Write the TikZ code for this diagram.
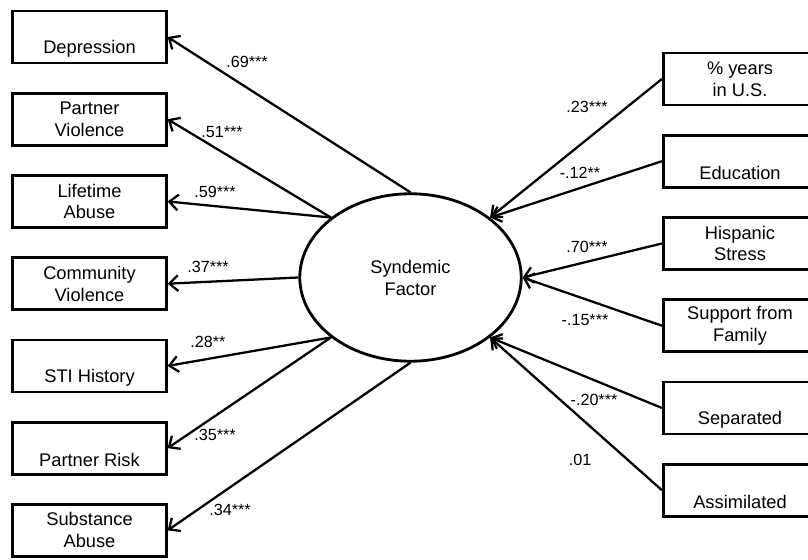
\documentclass[tikz,border=0pt]{standalone}
\usepackage{fontspec}
\setmainfont{Liberation Sans}
\usetikzlibrary{shapes.geometric,arrows.meta}

\begin{document}
\begin{tikzpicture}[x=0.02cm,y=-0.02cm,
  var/.style = {draw, line width=1.6pt, minimum width=3.07cm, minimum height=1.04cm, inner sep=0pt, align=center, font=\fontsize{10.4}{12.5}\selectfont},
  lat/.style = {draw, ellipse, line width=1.6pt, minimum width=4.43cm, minimum height=3.35cm, inner sep=0pt, align=center, font=\fontsize{10.4}{12.5}\selectfont},
  load/.style = {line width=1.3pt, -{Straight Barb[length=5pt,width=9pt]}},
  coef/.style = {inner sep=0pt, font=\fontsize{9.2}{10}\selectfont},
  node distance={16.45mm}]
\useasboundingbox (0,0) rectangle (808,560);

% latent factor
\node[lat] (sf) at (410.5,277.5) {Syndemic\\Factor};

% outcomes
\node[var] (dep) at (89.5,37) {\strut\\Depression};
\node[var] (pv) [below of=dep] {Partner\\Violence};
\node[var] (la) [below of=pv] {Lifetime\\Abuse};
\node[var] (cv) [below of=la] {Community\\Violence};
\node[var] (sti) [below of=cv] {\strut\\STI History};
\node[var] (pr) [below of=sti] {\strut\\Partner Risk};
\node[var] (sa) [below of=pr] {Substance\\Abuse};

% predictors
\node[var] (yrs) at (740,79) {\% years\\in U.S.};
\node[var] (edu) [below of=yrs] {\strut\\Education};
\node[var] (hs) [below of=edu] {Hispanic\\Stress};
\node[var] (fam) [below of=hs] {Support from\\Family};
\node[var] (sep) [below of=fam] {\strut\\Separated};
\node[var] (ass) [below of=sep] {\strut\\Assimilated};

\draw[load] (sf.north) -- (dep.east);
\draw[load] (sf.143) -- (pv.east);
\draw[load] (sf.143) -- (la.east);
\draw[load] (sf.west) -- (cv.east);
\draw[load] (sf.217) -- (sti.east);
\draw[load] (sf.217) -- (pr.east);
\draw[load] (sf.south) -- (sa.east);

\draw[load] (yrs.west) -- (sf.37);
\draw[load] (edu.west) -- (sf.37);
\draw[load] (hs.west) -- (sf.east);
\draw[load] (fam.west) -- (sf.east);
\draw[load] (sep.west) -- (sf.-37);
\draw[load] (ass.west) -- (sf.-37);

% coefficients
\node[coef] (c1) at (247,62) {.69***};
\node[coef] (c2) at (222,132) {.51***};
\node[coef] (c3) at (215,192) {.59***};
\node[coef] (c4) at (208,267) {.37***};
\node[coef] (c5) at (208,342) {.28**};
\node[coef] (c6) at (215,435) {.35***};
\node[coef] (c7) at (230,510) {.34***};
\node[coef] (c8) at (587,107) {.23***};
\node[coef] (c9) at (580,173) {-.12**};
\node[coef] (c10) at (587,247) {.70***};
\node[coef] (c11) at (585,320) {-.15***};
\node[coef] (c12) at (594,400) {-.20***};
\node[coef] (c13) at (580,460) {.01};
\end{tikzpicture}
\end{document}
